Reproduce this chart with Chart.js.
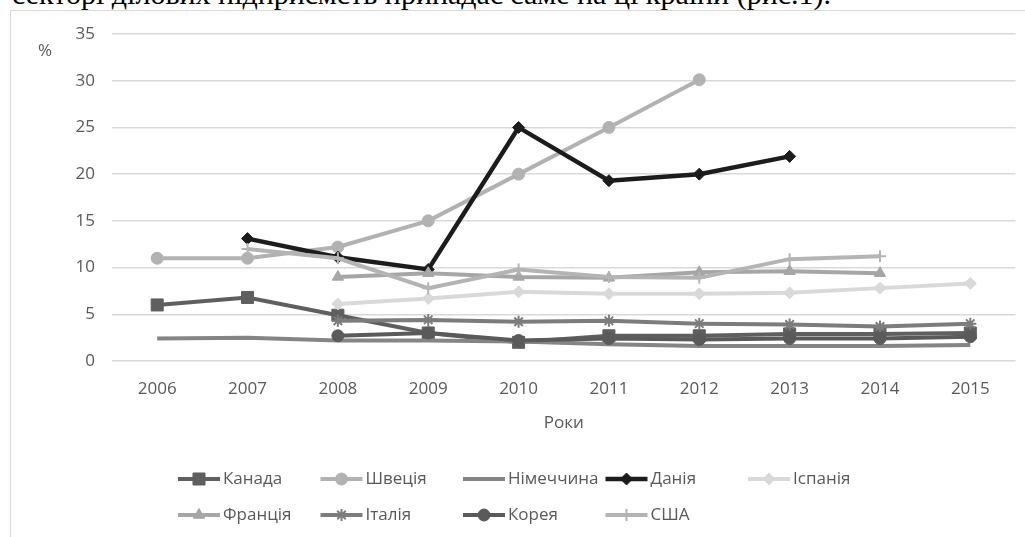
<!DOCTYPE html>
<html>
<head>
<meta charset="utf-8">
<script src="https://cdn.jsdelivr.net/npm/chart.js@4/dist/chart.umd.min.js"></script>
<style>
  html, body { margin: 0; padding: 0; background: #fff; overflow: hidden; }
  body { width: 1025px; height: 537px; position: relative; }
  #caption {
    position: absolute; top: -21px; right: 194px;
    font: 30px 'Liberation Serif', 'Times New Roman', serif;
    line-height: 30px; white-space: nowrap; color: #000;
  }
  #frame {
    position: absolute; left: 10px; top: 10px; width: 2000px; height: 2000px;
    border: 1px solid #d9d9d9;
  }
  #wrap { position: absolute; left: 0; top: 0; width: 1025px; height: 537px; }
</style>
</head>
<body>
<div id="caption">секторі ділових підприємств припадає саме на ці країни (рис.1).</div>
<div id="frame"></div>
<div id="wrap"><canvas id="myChart"></canvas></div>
<script>
const years = ['2006', '2007', '2008', '2009', '2010', '2011', '2012', '2013', '2014', '2015'];
const yTicks = [0, 5, 10, 15, 20, 25, 30, 35];

const kanada    = [6.0, 6.8, 4.9, 3.0, 2.0, 2.7, 2.7, 2.9, 2.9, 3.0];
const shvetsiia = [11.0, 11.0, 12.2, 15.0, 20.0, 25.0, 30.1, null, null, null];
const nimechchyna = [2.4, 2.5, 2.2, 2.2, 2.1, 1.8, 1.6, 1.6, 1.6, 1.7];
const daniia    = [null, 13.1, 11.1, 9.8, 25.0, 19.3, 20.0, 21.9, null, null];
const ispaniia  = [null, null, 6.1, 6.7, 7.4, 7.2, 7.2, 7.3, 7.8, 8.3];
const frantsiia = [null, null, 9.0, 9.4, 9.0, 8.9, 9.5, 9.6, 9.4, null];
const italiia   = [null, null, 4.3, 4.4, 4.2, 4.3, 4.0, 3.9, 3.7, 4.0];
const koreia    = [null, null, 2.7, 3.0, 2.2, 2.4, 2.3, 2.4, 2.4, 2.6];
const ssha      = [null, 12.0, 11.0, 7.8, 9.8, 9.0, 8.9, 10.9, 11.2, null];

const series = [
  { label: 'Канада',    data: kanada,      color: '#5f5f5f', style: 'rect',    r: 8.5 },
  { label: 'Швеція',    data: shvetsiia,   color: '#b2b2b2', style: 'circle',  r: 6 },
  { label: 'Німеччина', data: nimechchyna, color: '#858585', style: false,     r: 0 },
  { label: 'Данія',     data: daniia,      color: '#1c1c1c', style: 'rectRot', r: 6 },
  { label: 'Іспанія',   data: ispaniia,    color: '#d9d9d9', style: 'rectRot', r: 6 },
  { label: 'Франція',   data: frantsiia,   color: '#a6a6a6', style: 'triangle', r: 6.5 },
  { label: 'Італія',    data: italiia,     color: '#7c7c7c', style: 'star',    r: 6 },
  { label: 'Корея',     data: koreia,      color: '#5a5a5a', style: 'circle',  r: 6 },
  { label: 'США',       data: ssha,        color: '#b4b4b4', style: 'cross',   r: 6 }
];

const textColor = '#595959';
Chart.defaults.font.family = "'Open Sans', 'Liberation Sans', sans-serif";
Chart.defaults.font.size = 17;
Chart.defaults.color = textColor;

// legend in a fixed grid, like the office chart
const legendCols = [178, 320.5, 463, 605.5, 748];
const legendRows = [479, 515];

const extras = {
  id: 'extras',
  afterDraw(chart) {
    const ctx = chart.ctx;
    ctx.save();
    ctx.fillStyle = textColor;
    ctx.font = "17px 'Open Sans', sans-serif";
    ctx.textAlign = 'center';
    ctx.textBaseline = 'middle';
    ctx.fillText('%', 45, 51);

    chart.data.datasets.forEach((ds, i) => {
      const x = legendCols[i % 5];
      const y = legendRows[Math.floor(i / 5)];
      ctx.strokeStyle = ds.borderColor;
      ctx.lineWidth = ds.borderWidth;
      ctx.beginPath();
      ctx.moveTo(x, y);
      ctx.lineTo(x + 42, y);
      ctx.stroke();
      if (ds.pointStyle) {
        ctx.fillStyle = ds.pointBackgroundColor;
        ctx.strokeStyle = ds.pointBorderColor;
        ctx.lineWidth = ds.pointBorderWidth;
        Chart.helpers.drawPoint(ctx, {
          pointStyle: ds.pointStyle, radius: ds.pointRadius,
          rotation: 0, borderWidth: ds.pointBorderWidth
        }, x + 21, y);
      }
      ctx.fillStyle = textColor;
      ctx.textAlign = 'left';
      ctx.fillText(ds.label, x + 45, y);
    });
    ctx.restore();
  }
};

const ctx = document.getElementById('myChart').getContext('2d');

const chart = new Chart(ctx, {
  type: 'line',
  data: {
    labels: years,
    datasets: series.map((s, i) => ({
      label: s.label,
      data: s.data,
      borderColor: s.color,
      backgroundColor: s.color,
      borderWidth: i === 3 ? 4.5 : 4,
      pointStyle: s.style,
      pointRadius: s.r,
      pointBackgroundColor: s.color,
      pointBorderColor: s.color,
      pointBorderWidth: (s.style === 'star' || s.style === 'cross') ? 2 : 1,
      spanGaps: false,
      tension: 0,
      order: 9 - i
    }))
  },
  options: {
    responsive: true,
    maintainAspectRatio: false,
    animation: false,
    layout: { padding: { left: 0, top: 34, right: 7, bottom: 96 } },
    plugins: {
      legend: { display: false },
      tooltip: { enabled: false }
    },
    scales: {
      x: {
        offset: true,
        grid: { display: false, drawTicks: false },
        border: { display: false },
        ticks: { padding: 18, color: textColor, maxRotation: 0 },
        title: {
          display: true, text: 'Роки', color: textColor,
          font: { size: 17 }, padding: { top: 4, bottom: 8 }
        },
        afterFit(scale) { scale.height = 80; }
      },
      y: {
        min: 0,
        max: 35,
        afterBuildTicks(scale) { scale.ticks = yTicks.map(v => ({ value: v })); },
        grid: { color: '#d9d9d9', lineWidth: 1.5, drawTicks: false },
        border: { display: false },
        ticks: { padding: 17, color: textColor },
        afterFit(scale) { scale.width = 112; }
      }
    }
  },
  plugins: [extras]
});
</script>
</body>
</html>
